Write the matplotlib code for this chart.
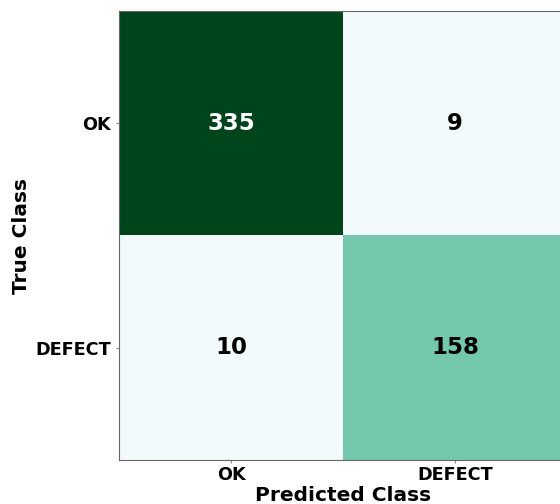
import matplotlib
matplotlib.use("Agg")
import matplotlib.pyplot as plt
import numpy as np

classes = ["OK", "DEFECT"]
cm_row_ok = [335, 9]
cm_row_defect = [10, 158]

cm = np.array([cm_row_ok, cm_row_defect])

W, H = 560, 504
fig = plt.figure(figsize=(W / 100, H / 100), dpi=100)
ax = fig.add_axes([119 / W, (H - 460) / H, 448 / W, 449 / H])
ax.imshow(cm, cmap="BuGn", vmin=0, vmax=cm.max(), aspect="auto")

thresh = cm.max() / 2
for i in range(cm.shape[0]):
    for j in range(cm.shape[1]):
        ax.text(j, i, str(cm[i, j]), ha="center", va="center",
                fontsize=16.5, fontweight="bold",
                color="white" if cm[i, j] > thresh else "black")

ax.set_xticks(range(len(classes)))
ax.set_yticks(range(len(classes)))
ax.set_xticklabels(classes, fontsize=12.7, fontweight="bold")
ax.set_yticklabels(classes, fontsize=12.7, fontweight="bold")
ax.set_xlabel("Predicted Class", fontsize=14.5, fontweight="bold", labelpad=1)
ax.set_ylabel("True Class", fontsize=14.5, fontweight="bold", labelpad=3)
for s in ax.spines.values():
    s.set_color("#666666")
ax.tick_params(axis="x", pad=2)
ax.tick_params(colors="#888888", labelcolor="black", length=2.5)

fig.savefig("out.png", dpi=100)
